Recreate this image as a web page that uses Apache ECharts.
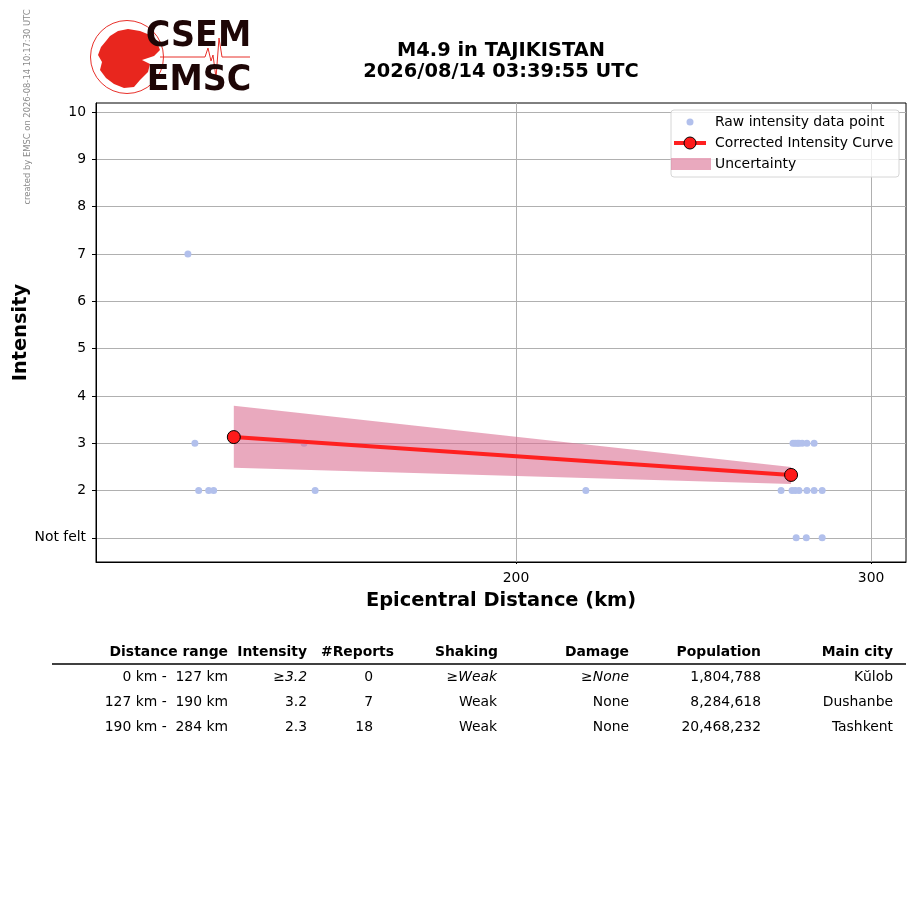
<!DOCTYPE html>
<html>
<head>
<meta charset="utf-8">
<script src="https://cdn.jsdelivr.net/npm/echarts@6/dist/echarts.min.js"></script>
<style>
  html, body { margin: 0; padding: 0; background: #fff; }
  #chart { width: 915px; height: 905px; }
</style>
</head>
<body>
<div id="chart"></div>
<script>
// raw reports (distance km, intensity)
const rawDist = [137.5, 138.6, 139.2, 140.8, 141.6, 157.0, 159.0, 216.6,
    274.4, 275.1, 275.8, 276.3, 277.3, 278.8, 281.1,
    270.7, 274.1, 275.1, 276.3, 278.8, 281.1, 283.7,
    275.4, 278.6, 283.7];
const rawInt = [7, 3, 2, 2, 2, 3, 2, 2,
    3, 3, 3, 3, 3, 3, 3,
    2, 2, 2, 2, 2, 2, 2,
    1, 1, 1];
// corrected curve and uncertainty band
const curveDist = [144.9, 273.8];
const curveInt = [3.13, 2.33];
const bandUpper = [3.79, 2.50];
const bandLower = [2.48, 2.14];
const xTicks = [200, 300];
const yTicks = [1, 2, 3, 4, 5, 6, 7, 8, 9, 10];

// table
const tableHead = ['Distance range', 'Intensity', '#Reports', 'Shaking', 'Damage', 'Population', 'Main city'];
const tableRows = [
    ['0 km -  127 km', '{n|≥}{i|3.2}', '0', '{n|≥}{i|Weak}', '{n|≥}{i|None}', '1,804,788', 'Kŭlob'],
    ['127 km -  190 km', '3.2', '7', 'Weak', 'None', '8,284,618', 'Dushanbe'],
    ['190 km -  284 km', '2.3', '18', 'Weak', 'None', '20,468,232', 'Tashkent']
];
const colRight = [228, 307, 394, 498, 629, 761, 893];
const valRight = [228, 307, 373, 497, 629, 761, 893];

let myChart = echarts.init(document.getElementById('chart'));
const FONT = 'DejaVu Sans';
const FS = 13.9;

let graphics = [];
// created-by note
graphics.push({
    type: 'text', x: 28, y: 107, rotation: Math.PI / 2,
    style: {text: 'created by EMSC on 2026-08-14 10:17:30 UTC', fill: '#8a8a8a', font: '8.4px ' + FONT,
        textAlign: 'center', textVerticalAlign: 'middle'}
});
// logo
graphics.push({type: 'circle', shape: {cx: 127, cy: 57, r: 36.5}, style: {fill: 'none', stroke: '#e8302a', lineWidth: 1}});
graphics.push({type: 'polygon', shape: {points: [[110, 36], [118, 31], [128, 29], [140, 31], [150, 35], [157, 42], [160, 50], [154, 56], [142, 60], [150, 64], [148, 72], [140, 80], [134, 87], [124, 88], [114, 84], [106, 78], [100, 70], [102, 62], [98, 55], [101, 47], [106, 41]]},
    style: {fill: '#e8261e'}});
graphics.push({type: 'polyline', shape: {points: [[160, 57], [205, 57], [208, 48], [211, 61], [213, 55], [216, 78], [219, 38], [222, 57], [250, 57]]},
    style: {stroke: '#e8302a', lineWidth: 1, fill: 'none'}});
graphics.push({type: 'text', x: 198.5, y: 37, scaleX: 0.955,
    style: {text: 'CSEM', font: 'bold 35px ' + FONT, fill: '#1e0606', textAlign: 'center', textVerticalAlign: 'middle'}});
graphics.push({type: 'text', x: 199, y: 81, scaleX: 0.955,
    style: {text: 'EMSC', font: 'bold 35px ' + FONT, fill: '#1e0606', textAlign: 'center', textVerticalAlign: 'middle'}});

// legend
graphics.push({type: 'rect', shape: {x: 671, y: 110, width: 228, height: 67, r: 3},
    style: {fill: 'rgba(255,255,255,0.8)', stroke: '#d6d6d6', lineWidth: 1}, z: 50});
graphics.push({type: 'circle', shape: {cx: 690, cy: 122, r: 3.5}, style: {fill: '#b2c0ec'}, z: 51});
graphics.push({type: 'line', shape: {x1: 674, y1: 143, x2: 706, y2: 143}, style: {stroke: '#ff2020', lineWidth: 4}, z: 51});
graphics.push({type: 'circle', shape: {cx: 690, cy: 143, r: 6}, style: {fill: '#ff1a1a', stroke: '#000', lineWidth: 1}, z: 52});
graphics.push({type: 'rect', shape: {x: 671, y: 158, width: 40, height: 12}, style: {fill: 'rgba(219,112,147,0.6)'}, z: 51});
['Raw intensity data point', 'Corrected Intensity Curve', 'Uncertainty'].forEach(function (t, i) {
    graphics.push({type: 'text', x: 715, y: 122 + i * 21, z: 52,
        style: {text: t, font: FS + 'px ' + FONT, fill: '#000', textVerticalAlign: 'middle'}});
});

// table
tableHead.forEach(function (h, c) {
    graphics.push({type: 'text', x: colRight[c], y: 652,
        style: {text: h, font: 'bold ' + FS + 'px ' + FONT, fill: '#000', textAlign: 'right', textVerticalAlign: 'middle'}});
});
graphics.push({type: 'line', shape: {x1: 52, y1: 664, x2: 906, y2: 664}, style: {stroke: '#000', lineWidth: 1.5}});
tableRows.forEach(function (row, r) {
    row.forEach(function (v, c) {
        graphics.push({type: 'text', x: valRight[c], y: 677 + r * 25,
            style: {text: v, font: FS + 'px ' + FONT, fill: '#000', textAlign: 'right', textVerticalAlign: 'middle',
                rich: {n: {fontFamily: FONT, fontSize: FS}, i: {fontFamily: FONT, fontSize: FS, fontStyle: 'italic'}}}});
    });
});

let option = {
    animation: false,
    backgroundColor: '#fff',
    textStyle: {fontFamily: FONT},
    title: {
        text: 'M4.9 in TAJIKISTAN\n2026/08/14 03:39:55 UTC',
        left: 496, top: 36, textAlign: 'center',
        textStyle: {fontFamily: FONT, fontSize: 19.4, fontWeight: 'bold', color: '#000', lineHeight: 20.5}
    },
    grid: {left: 96, right: 9, top: 103, bottom: 343, show: true, borderColor: '#000', borderWidth: 1,
        containLabel: false, outerBoundsMode: 'none'},
    xAxis: {
        type: 'log',
        logBase: 10,
        min: 123.8,
        max: 312.2,
        name: 'Epicentral Distance (km)',
        nameLocation: 'middle',
        nameGap: 29,
        nameMoveOverlap: false,
        nameTextStyle: {fontFamily: FONT, fontSize: 19.4, fontWeight: 'bold', color: '#000'},
        axisLine: {show: true, lineStyle: {color: '#000'}},
        axisTick: {show: true, inside: false, length: 2, lineStyle: {color: '#000'}, customValues: xTicks},
        axisLabel: {fontFamily: FONT, fontSize: FS, color: '#000', margin: 9, customValues: xTicks},
        splitLine: {show: true, lineStyle: {color: '#b0b0b0', width: 1}},
        minorTick: {show: false}
    },
    yAxis: {
        type: 'value',
        min: 0.49,
        max: 10.19,
        name: 'Intensity',
        nameLocation: 'middle',
        nameGap: 66,
        nameMoveOverlap: false,
        nameTextStyle: {fontFamily: FONT, fontSize: 19.4, fontWeight: 'bold', color: '#000'},
        axisLine: {show: true, lineStyle: {color: '#000'}},
        axisTick: {show: true, inside: false, length: 4, lineStyle: {color: '#000'}, customValues: yTicks},
        axisLabel: {fontFamily: FONT, fontSize: FS, color: '#000', margin: 10, customValues: yTicks,
            formatter: function (v) { return v === 1 ? 'Not felt' : String(v); }},
        splitLine: {show: true, lineStyle: {color: '#b0b0b0', width: 1}}
    },
    series: [
        {
            name: 'Raw intensity data point',
            type: 'scatter',
            symbolSize: 7,
            itemStyle: {color: '#b2c0ec', opacity: 1},
            data: rawDist.map(function (d, i) { return [d, rawInt[i]]; }),
            z: 2
        },
        {
            name: 'Uncertainty',
            type: 'custom',
            z: 3,
            data: curveDist.map(function (d, i) { return [d, bandUpper[i], bandLower[i]]; }),
            renderItem: function (params, api) {
                if (params.dataIndex !== 0) return;
                let pts = [];
                for (let i = 0; i < curveDist.length; i++) pts.push(api.coord([curveDist[i], bandUpper[i]]));
                for (let i = curveDist.length - 1; i >= 0; i--) pts.push(api.coord([curveDist[i], bandLower[i]]));
                return {type: 'polygon', shape: {points: pts}, style: {fill: 'rgba(219,112,147,0.6)'}};
            }
        },
        {
            name: 'Corrected Intensity Curve',
            type: 'line',
            z: 4,
            data: curveDist.map(function (d, i) { return [d, curveInt[i]]; }),
            symbol: 'circle',
            symbolSize: 13,
            lineStyle: {color: '#ff2020', width: 4},
            itemStyle: {color: '#ff1a1a', borderColor: '#000', borderWidth: 1}
        }
    ],
    graphic: graphics
};
myChart.setOption(option);
</script>
</body>
</html>
